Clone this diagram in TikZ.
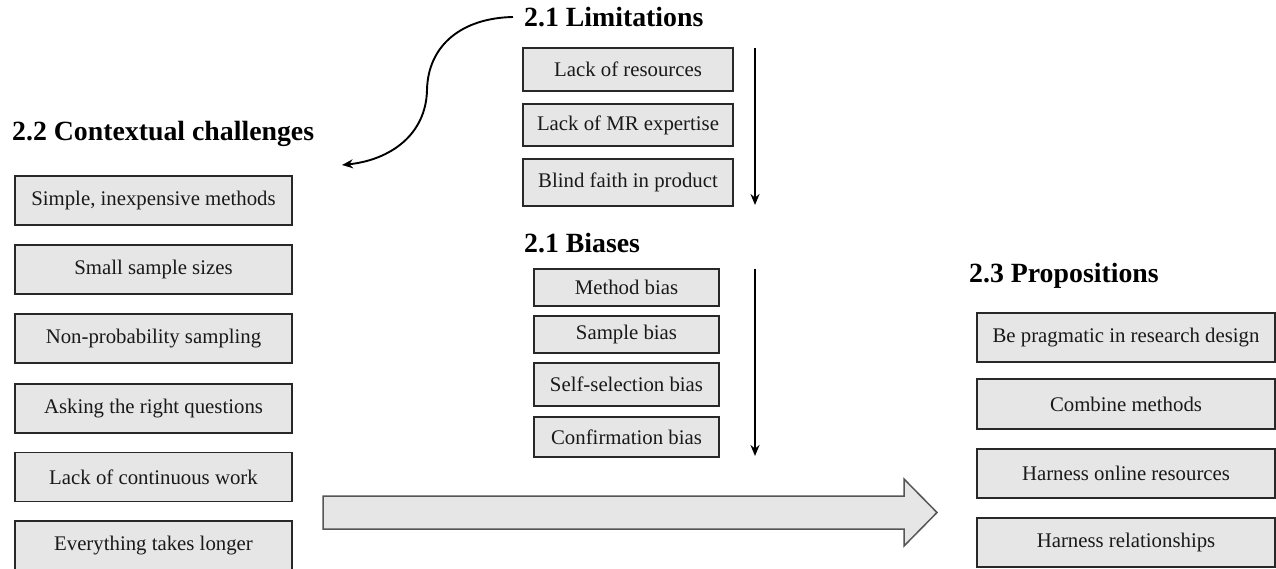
\documentclass[tikz,border=0pt]{standalone}
\usepackage{fontspec}
\setmainfont{Liberation Serif}
\usetikzlibrary{arrows.meta}
\definecolor{boxfill}{RGB}{230,230,230}
\definecolor{boxline}{RGB}{40,40,40}
\definecolor{bigline}{RGB}{85,85,85}
\definecolor{txt}{RGB}{25,25,25}
\tikzset{
  itembox/.style={draw=boxline, fill=boxfill, line width=1.4pt, inner sep=0pt,
    text=txt, font=\fontsize{20.8}{24}\selectfont},
  heading/.style={inner sep=0pt, anchor=base west, text=black,
    font=\fontsize{27.8}{32}\selectfont\bfseries},
  flowarrow/.style={line width=2pt, -{Stealth[length=11pt,width=9pt]}},
  curvearrow/.style={line width=1.9pt, -{Stealth[length=11pt,width=9pt]}},
}
\newcommand{\ibox}[6]{\node[itembox, minimum width=#3pt, minimum height=#4pt] (#5) at (#1,#2) {#6};}
\begin{document}
\begin{tikzpicture}[x=1pt,y=-1pt]
\useasboundingbox (0,0) rectangle (1276,569);
\clip (0,0) rectangle (1276,569);

% headings
\node[heading] (hlim) at (524,27) {2.1 Limitations};
\node[heading] (hbias) at (524,252) {2.1 Biases};
\node[heading] (hctx) at (12,141) {2.2 Contextual challenges};
\node[heading] (hprop) at (969,282) {2.3 Propositions};

% left column
\ibox{153.5}{200.5}{277}{49}{c1}{Simple, inexpensive methods}
\ibox{153.5}{269.5}{277}{49}{c2}{Small sample sizes}
\ibox{153.5}{338.5}{277}{49}{c3}{Non-probability sampling}
\ibox{153.5}{408.5}{277}{49}{c4}{Asking the right questions}
\ibox{153.5}{477}{277}{49}{c5}{Lack of continuous work}
\ibox{153.5}{545.5}{277}{49}{c6}{Everything takes longer}

% limitations
\ibox{628}{69.5}{210}{43}{l1}{Lack of resources}
\ibox{628}{125}{210}{42}{l2}{Lack of MR expertise}
\ibox{628}{182.5}{210}{47}{l3}{Blind faith in product}

% biases
\ibox{626.5}{287.5}{185}{37}{b1}{Method bias}
\ibox{626.5}{334.5}{185}{37}{b2}{Sample bias}
\ibox{626.5}{384.5}{185}{43}{b3}{Self-selection bias}
\ibox{626.5}{437}{185}{40}{b4}{Confirmation bias}

% propositions
\ibox{1126}{337.5}{298}{49}{p1}{Be pragmatic in research design}
\ibox{1126}{404}{298}{50}{p2}{Combine methods}
\ibox{1126}{473.5}{298}{49}{p3}{Harness online resources}
\ibox{1126}{542.5}{298}{49}{p4}{Harness relationships}

% vertical arrows
\coordinate (limtop) at (755,48);
\coordinate (limbot) at (755,205);
\coordinate (biastop) at (755,269);
\coordinate (biasbot) at (755,456);
\draw[flowarrow] (limtop) -- (limbot);
\draw[flowarrow] (biastop) -- (biasbot);

% curved arrow
\coordinate (cstart) at (513,17);
\coordinate (cmid) at (427,90);
\coordinate (cend) at (342,165);
\draw[curvearrow] (cstart) .. controls (462,18) and (428,45) .. (cmid)
  .. controls (426,135) and (390,160) .. (cend);

% big block arrow
\draw[fill=boxfill, draw=bigline, line width=1.5pt, line join=miter]
  (323,496) -- (904,496) -- (904,479) -- (937,512.5) -- (904,546)
  -- (904,529) -- (323,529) -- cycle;
\end{tikzpicture}
\end{document}
